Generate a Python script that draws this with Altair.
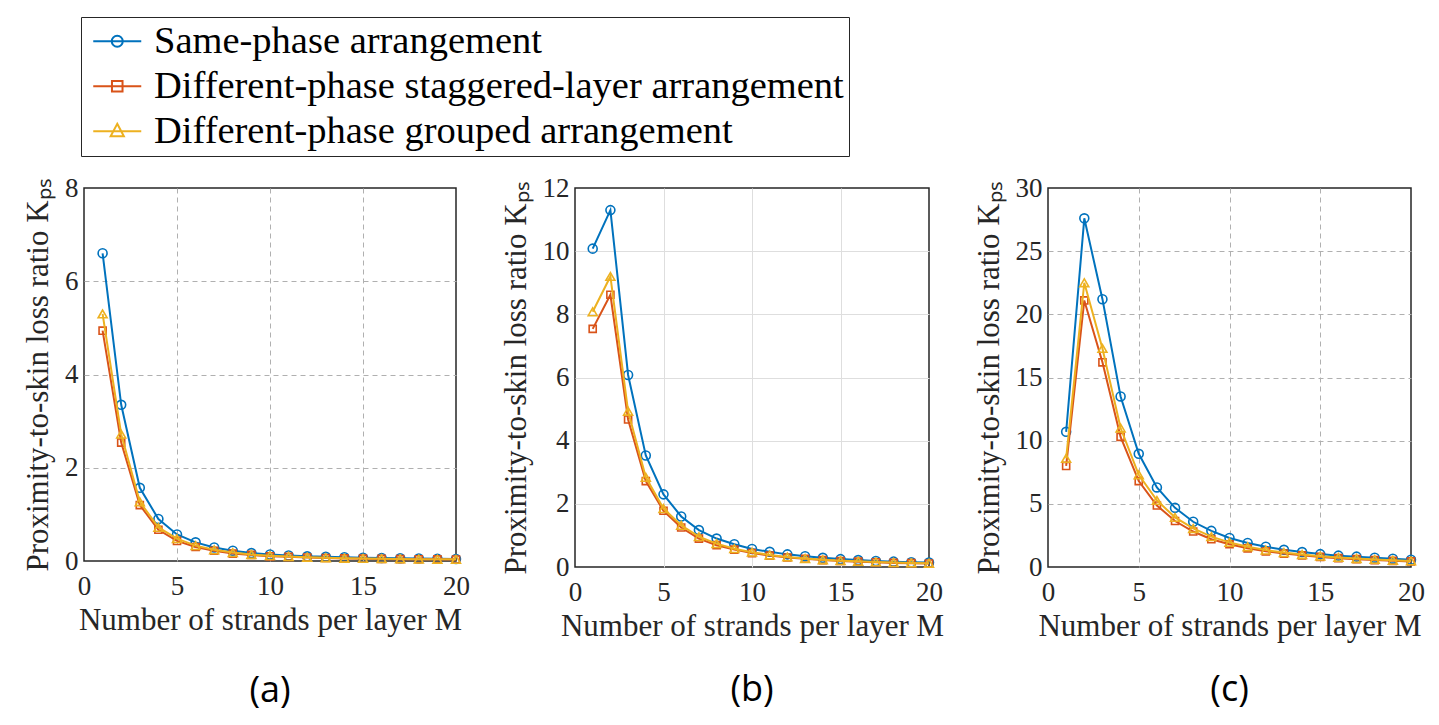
import altair as alt
import pandas as pd

M = list(range(1, 21))
series_names = [
    "Same-phase arrangement",
    "Different-phase staggered-layer arrangement",
    "Different-phase grouped arrangement",
]
colors = ["#0072BD", "#D95319", "#EDB120"]
shapes = ["circle", "square", "triangle-up"]
marker_sizes = [80, 50, 80]
legend_paths = [
    "M-1,0H3M1.46,0A0.46,0.46,0,1,1,0.54,0A0.46,0.46,0,1,1,1.46,0Z",
    "M-1,0H3M0.56,-0.44H1.44V0.44H0.56Z",
    "M-1,0H3M1,-0.62L1.55,0.42H0.45Z",
]

# Panel (a)
same_a = [6.60, 3.35, 1.57, 0.90, 0.57, 0.40, 0.29, 0.22, 0.17, 0.14,
          0.12, 0.10, 0.09, 0.08, 0.07, 0.065, 0.06, 0.055, 0.05, 0.045]
stag_a = [4.94, 2.54, 1.20, 0.67, 0.43, 0.30, 0.22, 0.16, 0.13, 0.10,
          0.09, 0.075, 0.065, 0.055, 0.05, 0.045, 0.04, 0.038, 0.035, 0.032]
grp_a = [5.30, 2.72, 1.27, 0.72, 0.48, 0.33, 0.24, 0.18, 0.14, 0.115,
         0.095, 0.08, 0.07, 0.06, 0.055, 0.05, 0.045, 0.04, 0.038, 0.035]
# Panel (b)
same_b = [10.08, 11.30, 6.08, 3.53, 2.30, 1.60, 1.17, 0.90, 0.72, 0.57,
          0.48, 0.40, 0.34, 0.29, 0.25, 0.22, 0.19, 0.17, 0.15, 0.14]
stag_b = [7.54, 8.62, 4.67, 2.72, 1.78, 1.25, 0.90, 0.69, 0.55, 0.44,
          0.36, 0.30, 0.26, 0.22, 0.19, 0.17, 0.15, 0.13, 0.12, 0.11]
grp_b = [8.08, 9.20, 4.93, 2.84, 1.85, 1.32, 0.96, 0.74, 0.58, 0.47,
         0.38, 0.32, 0.27, 0.23, 0.20, 0.18, 0.16, 0.14, 0.13, 0.12]
# Panel (c)
same_c = [10.7, 27.6, 21.2, 13.5, 8.96, 6.3, 4.68, 3.58, 2.86, 2.3,
          1.9, 1.6, 1.36, 1.18, 1.02, 0.9, 0.82, 0.74, 0.66, 0.58]
stag_c = [8.0, 21.1, 16.2, 10.3, 6.8, 4.87, 3.64, 2.81, 2.2, 1.8,
          1.48, 1.24, 1.06, 0.92, 0.8, 0.7, 0.62, 0.55, 0.49, 0.44]
grp_c = [8.6, 22.5, 17.3, 11.0, 7.3, 5.27, 3.93, 3.05, 2.4, 1.95,
         1.6, 1.34, 1.14, 0.99, 0.86, 0.76, 0.67, 0.6, 0.53, 0.48]

x_ticks = [0, 5, 10, 15, 20]
x_title = "Number of strands per layer M"
y_title = "Proximity-to-skin loss ratio K\u209a\u209b"

FONT = "Liberation Serif"
TXT = "#262626"


def panel(vals, ymax, ystep, dashed, w, h, caption, cap_offset, legend=False):
    rows = []
    for name, v in zip(series_names, vals):
        for m, k in zip(M, v):
            rows.append({"M": m, "K": k, "series": name})
    df = pd.DataFrame(rows)
    if dashed:
        gkw = dict(gridColor="#b0b0b0", gridDash=[5, 4], gridWidth=1)
    else:
        gkw = dict(gridColor="#dedede", gridWidth=1)
    x = alt.X("M:Q", scale=alt.Scale(domain=[0, 20], nice=False, zero=False),
              axis=alt.Axis(values=x_ticks, title=x_title, grid=True, ticks=False,
                            domain=False, labelFlush=False, labelOverlap=False,
                            labelPadding=12, titlePadding=6,
                            gridOpacity={"condition": {"test": "datum.value <= 0 || datum.value >= 20",
                                                       "value": 0}, "value": 1},
                            **gkw))
    y = alt.Y("K:Q", scale=alt.Scale(domain=[0, ymax], nice=False),
              axis=alt.Axis(values=list(range(0, ymax + 1, ystep)), title=y_title,
                            grid=True, ticks=False, domain=False, labelFlush=False,
                            labelOverlap=False, labelPadding=6, titlePadding=10,
                            gridOpacity={"condition": {"test": f"datum.value <= 0 || datum.value >= {ymax}",
                                                       "value": 0}, "value": 1},
                            **gkw))
    layers = []
    for name, c, s, sz in zip(series_names, colors, shapes, marker_sizes):
        base = alt.Chart(df).transform_filter(alt.datum.series == name)
        layers.append(base.mark_line(color=c, strokeWidth=2).encode(x=x, y=y))
        layers.append(base.mark_point(shape=s, color=c, filled=False, size=sz,
                                      strokeWidth=1.6, opacity=1).encode(x=x, y=y))
    if legend:
        lg = dict(title=None, orient="none", legendX=-3, legendY=-171,
                  direction="vertical", padding=5, rowPadding=6,
                  labelFont=FONT, labelFontSize=38.5, labelColor="black",
                  labelLimit=1500, labelOffset=29.5, symbolSize=576,
                  symbolStrokeWidth=2, strokeColor="#262626", fillColor="white")
        leg = alt.Chart(df).transform_filter("false").mark_point(
            filled=False, strokeWidth=2, opacity=1, size=576).encode(
            x=x, y=y,
            color=alt.Color("series:N", scale=alt.Scale(domain=series_names, range=colors),
                            legend=alt.Legend(**lg)),
            shape=alt.Shape("series:N", scale=alt.Scale(domain=series_names, range=legend_paths),
                            legend=alt.Legend(**lg)),
        )
        layers.append(leg)
    return alt.layer(*layers).properties(
        width=w, height=h,
        title=alt.TitleParams(caption, orient="bottom", anchor="middle", frame="group",
                              font="Open Sans", fontSize=36, fontWeight="normal",
                              color="black", offset=cap_offset),
    )


pa = panel([same_a, stag_a, grp_a], 8, 2, True, 372, 373, "(a)", 39, legend=True)
pb = panel([same_b, stag_b, grp_b], 12, 2, False, 354, 379, "(b)", 32)
pc = panel([same_c, stag_c, grp_c], 30, 5, True, 363, 379, "(c)", 32)

chart = alt.hconcat(pa, pb, pc, spacing=119, bounds="flush").resolve_scale(
    color="independent", shape="independent").resolve_legend(
    color="independent", shape="independent")

chart = chart.properties(
    padding={"left": 13, "top": 7, "right": 0, "bottom": 20},
    background="white",
).configure_view(stroke=TXT, strokeWidth=1.5).configure_axis(
    labelFont=FONT, labelFontSize=27, labelColor=TXT,
    titleFont=FONT, titleFontSize=31, titleColor=TXT, titleFontWeight="normal",
)

chart.save("out.html", embed_options={"renderer": "svg", "actions": False})
